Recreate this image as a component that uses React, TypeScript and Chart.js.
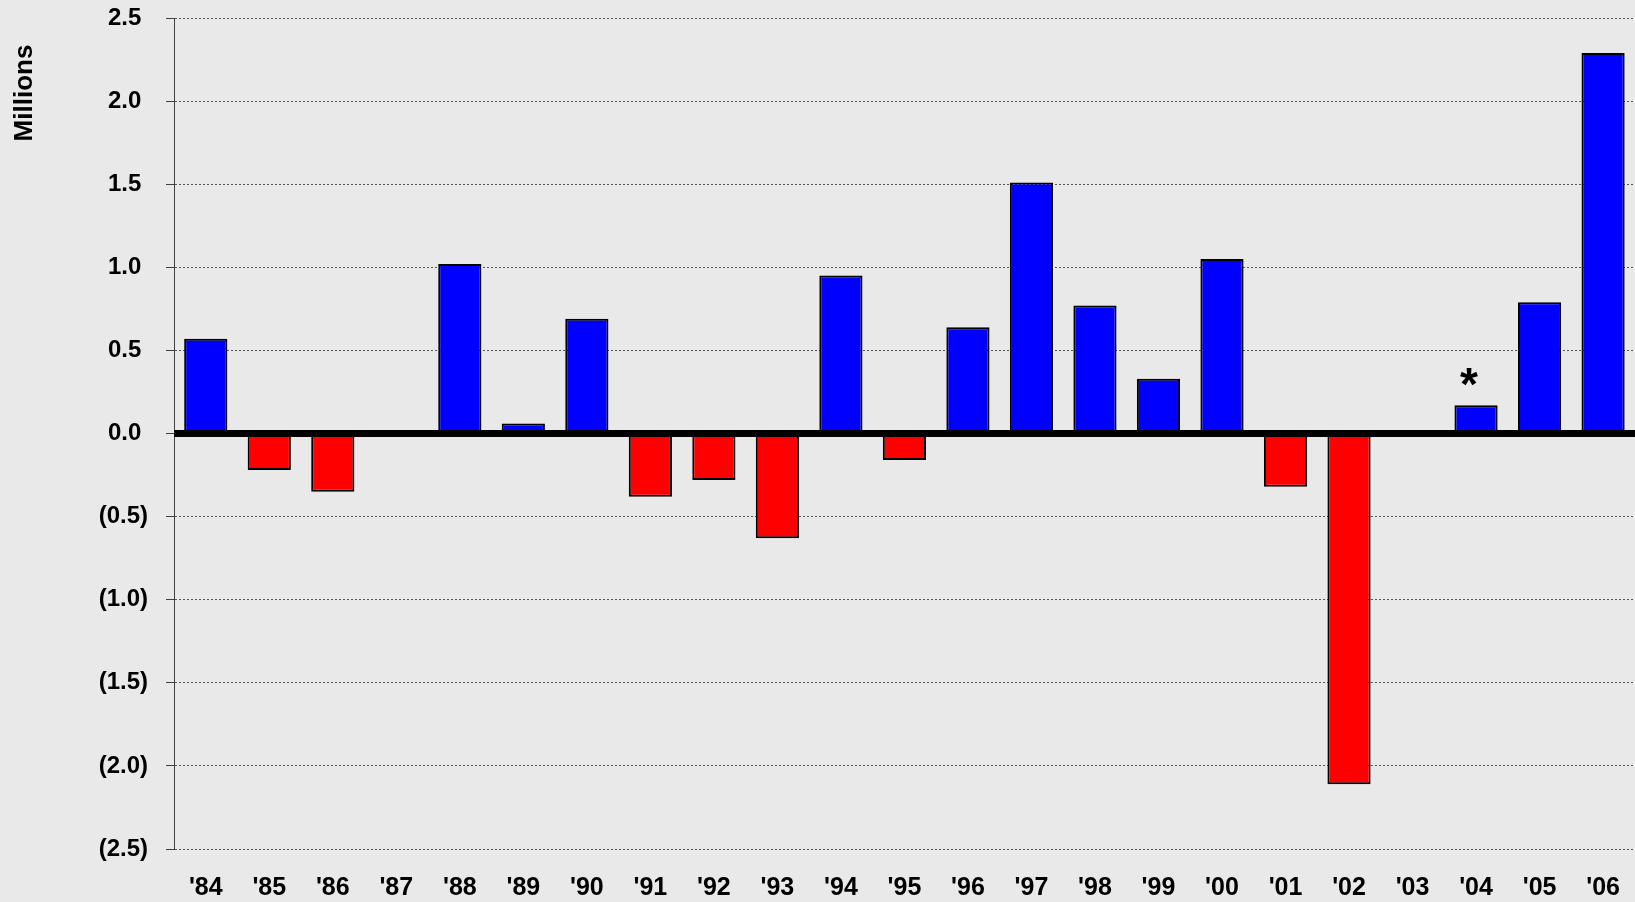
import React, { useEffect, useRef } from "react";
import { Chart, registerables } from "chart.js";

Chart.register(...registerables);

const years: string[] = [
  "'84", "'85", "'86", "'87", "'88", "'89", "'90", "'91", "'92", "'93", "'94", "'95",
  "'96", "'97", "'98", "'99", "'00", "'01", "'02", "'03", "'04", "'05", "'06",
];

const values: number[] = [
  0.57, -0.22, -0.35, 0, 1.02, 0.06, 0.69, -0.38, -0.28, -0.63, 0.95, -0.16,
  0.64, 1.51, 0.77, 0.33, 1.05, -0.32, -2.11, 0, 0.17, 0.79, 2.29,
];

const yMin = -2.5;
const yMax = 2.5;
const yStep = 0.5;
const axisTitle = "Millions";
const annotatedYear = "'04";
const annotationText = "*";

const FONT = "'Liberation Sans', Arial, Helvetica, sans-serif";
const BG = "#e9e9e9";

const formatTick = (v: number): string => {
  const n = Number(v);
  if (n < -1e-9) return `(${Math.abs(n).toFixed(1)})`;
  return `${Math.abs(n).toFixed(1)} `;
};

const customPlugin = {
  id: "customDecor",
  beforeDraw(chart: any) {
    const { ctx, width, height } = chart;
    ctx.save();
    ctx.fillStyle = BG;
    ctx.fillRect(0, 0, width, height);
    ctx.restore();
  },
  afterDatasetsDraw(chart: any) {
    const { ctx, chartArea } = chart;
    const yScale = chart.scales.y;
    const y0 = yScale.getPixelForValue(0);
    ctx.save();
    ctx.strokeStyle = "#000000";
    ctx.lineWidth = 7;
    ctx.beginPath();
    ctx.moveTo(chartArea.left, y0);
    ctx.lineTo(chartArea.right + 5, y0);
    ctx.stroke();

    const idx = years.indexOf(annotatedYear);
    const meta = chart.getDatasetMeta(0);
    const el = meta.data[idx];
    if (el) {
      ctx.font = `bold 46px ${FONT}`;
      ctx.fillStyle = "#000000";
      ctx.textAlign = "center";
      ctx.textBaseline = "alphabetic";
      const m = ctx.measureText(annotationText);
      const cx = el.x - 7;
      const cy = el.y - 28;
      const off = (m.actualBoundingBoxAscent - m.actualBoundingBoxDescent) / 2;
      ctx.fillText(annotationText, cx, cy + off);
    }
    ctx.restore();
  },
  afterDraw(chart: any) {
    const { ctx } = chart;
    ctx.save();
    ctx.font = `bold 26px ${FONT}`;
    ctx.fillStyle = "#000000";
    ctx.textAlign = "center";
    ctx.textBaseline = "alphabetic";
    const m = ctx.measureText(axisTitle);
    ctx.translate(22, 93);
    ctx.rotate(-Math.PI / 2);
    const off = (m.actualBoundingBoxAscent - m.actualBoundingBoxDescent) / 2;
    ctx.fillText(axisTitle, 0, off);
    ctx.restore();
  },
};

export default function App() {
  const canvasRef = useRef<HTMLCanvasElement | null>(null);

  useEffect(() => {
    document.body.style.margin = "0";
    document.body.style.background = BG;
    const canvas = canvasRef.current;
    if (!canvas) return;
    const chart = new Chart(canvas, {
      type: "bar",
      data: {
        labels: years,
        datasets: [
          {
            data: values,
            backgroundColor: values.map((v) => (v < 0 ? "#ff0000" : "#0000ff")),
            borderColor: "#000000",
            borderWidth: 2,
            borderSkipped: false,
            categoryPercentage: 1,
            barPercentage: 0.68,
          },
        ],
      },
      plugins: [customPlugin],
      options: {
        responsive: false,
        devicePixelRatio: 1,
        animation: false,
        layout: { padding: { left: 0, right: 2, top: 18, bottom: 0 } },
        plugins: {
          legend: { display: false },
          tooltip: { enabled: false },
          title: { display: false },
        },
        scales: {
          x: {
            type: "category",
            grid: { display: false, drawTicks: false },
            border: { display: false },
            afterFit: (scale: any) => {
              scale.height = 53;
            },
            ticks: {
              color: "#000000",
              font: { family: FONT, size: 25, weight: "bold" },
              padding: 24,
              autoSkip: false,
              maxRotation: 0,
              minRotation: 0,
            },
          },
          y: {
            type: "linear",
            min: yMin,
            max: yMax,
            afterFit: (scale: any) => {
              scale.width = 174;
              scale.paddingTop = 0;
              scale.paddingBottom = 0;
            },
            ticks: {
              stepSize: yStep,
              color: "#000000",
              font: { family: FONT, size: 24, weight: "bold" },
              padding: 18,
              callback: (v: any) => formatTick(Number(v)),
            },
            grid: {
              color: (c: any) =>
                c.tick && Math.abs(c.tick.value) < 1e-9 ? "rgba(0,0,0,0)" : "#555555",
              lineWidth: 1,
              tickLength: 8,
              tickColor: "#404040",
              tickWidth: 1,
              tickBorderDash: [],
            },
            border: { display: true, color: "#404040", width: 1, dash: [2, 2] },
          },
        },
      },
    });
    return () => chart.destroy();
  }, []);

  return (
    <div
      style={{
        position: "fixed",
        left: 0,
        top: 0,
        width: 1635,
        height: 902,
        overflow: "hidden",
        background: BG,
      }}
    >
      <canvas
        ref={canvasRef}
        width={1644}
        height={902}
        style={{ display: "block", width: 1644, height: 902 }}
      />
    </div>
  );
}
